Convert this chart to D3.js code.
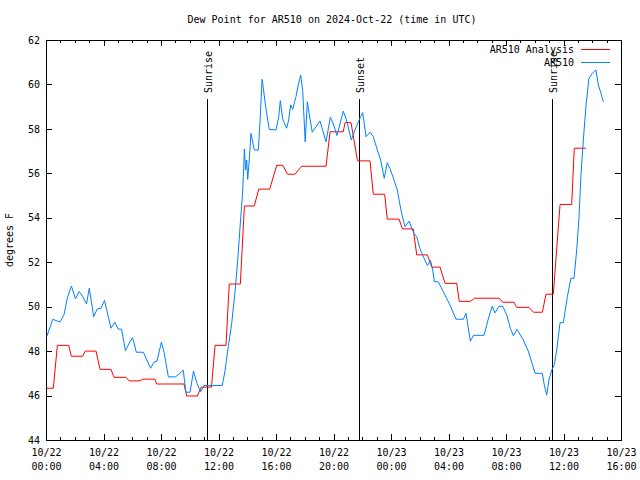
<!DOCTYPE html>
<html>
<head>
<meta charset="utf-8">
<script src="https://cdn.jsdelivr.net/npm/d3@7"></script>
<style>
  body { margin: 0; background: #fff; }
  svg { display: block; }
  text { font-family: "DejaVu Sans Mono", monospace; font-size: 10px; fill: #000; }
</style>
</head>
<body>
<svg id="chart" width="640" height="480"></svg>
<script>
// ---- Data (hours since 2024-10-22 00:00 UTC) ----
const titleText = "Dew Point for AR510 on 2024-Oct-22 (time in UTC)";
const yLabelText = "degrees F";
const seriesNames = ["AR510 Analysis", "AR510"];

const xTickHours = [0, 4, 8, 12, 16, 20, 24, 28, 32, 36, 40];
const xTickDates = ["10/22", "10/22", "10/22", "10/22", "10/22", "10/22", "10/23", "10/23", "10/23", "10/23", "10/23"];
const xTickTimes = ["00:00", "04:00", "08:00", "12:00", "16:00", "20:00", "00:00", "04:00", "08:00", "12:00", "16:00"];
const yTicks = [44, 46, 48, 50, 52, 54, 56, 58, 60, 62];

const eventNames = ["Sunrise", "Sunset", "Sunrise"];
const eventHours = [11.22, 21.80, 35.22];

const analysisHours = [0.05, 0.51, 0.79, 1.58, 1.76, 2.55, 2.73, 3.48, 3.76, 4.52, 4.73, 5.57, 5.79, 6.54, 6.73, 7.58, 7.70, 9.60, 9.79, 10.53, 10.80, 11.51, 11.76, 12.52, 12.75, 13.52, 13.80, 14.49, 14.80, 15.56, 16.05, 16.47, 16.80, 17.32, 17.79, 19.48, 19.76, 20.68, 20.80, 21.22, 21.67, 22.54, 22.77, 23.56, 23.74, 24.56, 24.79, 25.55, 25.79, 26.53, 26.83, 27.41, 27.76, 28.57, 28.75, 29.54, 29.80, 31.53, 31.77, 32.56, 32.74, 33.60, 33.91, 34.53, 34.78, 35.29, 35.76, 36.57, 36.75, 37.57];
const analysisValues = [46.33, 46.33, 48.26, 48.26, 47.77, 47.77, 48.00, 48.00, 47.18, 47.18, 46.82, 46.82, 46.66, 46.66, 46.74, 46.74, 46.52, 46.52, 45.98, 45.98, 46.38, 46.38, 48.26, 48.26, 51.02, 51.02, 54.53, 54.53, 55.29, 55.29, 56.36, 56.36, 55.96, 55.96, 56.32, 56.32, 57.87, 57.87, 58.28, 58.28, 56.56, 56.56, 55.06, 55.06, 53.94, 53.94, 53.50, 53.50, 52.33, 52.33, 51.78, 51.78, 51.05, 51.05, 50.24, 50.24, 50.38, 50.38, 50.20, 50.20, 49.97, 49.97, 49.75, 49.75, 50.56, 50.56, 54.60, 54.60, 57.13, 57.13];

const obsHours = [0.05, 0.47, 0.97, 1.25, 1.48, 1.77, 2.05, 2.30, 2.54, 2.82, 3.01, 3.32, 3.57, 3.83, 4.07, 4.52, 4.79, 5.02, 5.25, 5.53, 5.84, 6.02, 6.12, 6.28, 6.77, 7.28, 7.51, 7.72, 8.03, 8.22, 8.51, 9.01, 9.55, 9.73, 10.02, 10.26, 10.50, 10.76, 10.99, 12.26, 12.45, 12.68, 12.92, 13.15, 13.34, 13.50, 13.66, 13.73, 13.80, 13.89, 13.96, 14.03, 14.14, 14.26, 14.35, 14.49, 14.77, 14.89, 15.03, 15.12, 15.28, 15.53, 16.00, 16.19, 16.30, 16.47, 16.74, 16.88, 17.02, 17.16, 17.39, 17.55, 17.72, 17.86, 18.03, 18.18, 18.32, 18.52, 19.06, 19.48, 19.78, 19.99, 20.24, 20.68, 20.89, 21.24, 21.50, 21.73, 21.89, 22.03, 22.12, 22.26, 22.54, 22.77, 23.05, 23.28, 23.42, 23.53, 23.74, 23.93, 24.21, 24.44, 24.58, 24.74, 24.97, 25.27, 25.44, 25.60, 25.79, 26.02, 26.30, 26.53, 26.75, 26.90, 27.02, 27.29, 27.64, 28.10, 28.52, 29.03, 29.22, 29.31, 29.52, 29.74, 30.47, 30.77, 31.04, 31.23, 31.53, 31.79, 32.07, 32.30, 32.51, 32.77, 33.20, 33.55, 33.79, 34.02, 34.53, 34.66, 34.83, 34.99, 35.18, 35.36, 35.53, 35.76, 35.99, 36.26, 36.52, 36.73, 36.92, 37.08, 37.22, 37.38, 37.57, 37.77, 38.00, 38.26, 38.42, 38.61, 38.77];
const obsValues = [48.65, 49.43, 49.31, 49.63, 50.38, 50.93, 50.35, 50.68, 50.48, 50.12, 50.83, 49.55, 49.90, 49.93, 50.28, 49.03, 49.30, 48.99, 48.99, 48.02, 48.42, 48.60, 48.38, 47.95, 47.95, 47.23, 47.50, 47.55, 48.41, 47.93, 46.84, 46.84, 47.14, 46.15, 46.15, 47.10, 46.55, 46.17, 46.45, 46.45, 47.10, 48.20, 49.25, 50.67, 52.10, 53.60, 54.95, 55.85, 57.10, 56.15, 56.60, 55.73, 56.60, 57.80, 57.50, 57.05, 57.05, 58.32, 60.23, 59.83, 59.00, 57.98, 57.95, 58.55, 59.27, 58.43, 58.03, 58.40, 59.08, 58.88, 59.45, 59.98, 60.42, 59.68, 57.42, 59.22, 58.63, 57.85, 58.36, 57.42, 58.52, 58.22, 57.70, 58.80, 58.43, 57.50, 57.95, 58.32, 58.55, 58.73, 58.32, 57.65, 57.85, 57.65, 57.05, 56.60, 56.15, 55.78, 56.48, 56.22, 55.70, 55.25, 54.73, 54.20, 53.60, 53.85, 53.53, 53.30, 53.15, 52.60, 52.18, 51.85, 52.08, 51.65, 51.12, 51.12, 50.67, 50.08, 49.44, 49.43, 49.70, 49.32, 48.45, 48.71, 48.71, 49.45, 50.02, 49.72, 50.03, 50.00, 49.60, 49.03, 48.70, 48.98, 48.50, 48.00, 47.50, 47.00, 47.00, 46.48, 46.02, 46.70, 47.15, 47.38, 48.05, 49.28, 49.28, 50.42, 51.28, 51.28, 52.55, 54.05, 56.00, 57.50, 59.08, 60.28, 60.50, 60.65, 59.98, 59.60, 59.22];

const colors = ["#ff0000", "#0080ff"];

// ---- Layout ----
const L = 46, R = 621, T = 40, B = 440;
const svg = d3.select("#chart");

const x = d3.scaleLinear().domain([0, 40]).range([L, R]);
const y = d3.scaleLinear().domain([44, 62]).range([B, T]);

// Title
svg.append("text").attr("x", 332).attr("y", 23).attr("text-anchor", "middle").text(titleText);

// Y label
svg.append("text").attr("transform", "translate(13,240) rotate(-90)")
  .attr("text-anchor", "middle").text(yLabelText);

// Minor x ticks (hourly), bottom and top, inward
const hours = d3.range(0, 41);
svg.append("g").attr("transform", `translate(0,${B})`)
  .call(d3.axisBottom(x).tickValues(hours).tickSize(-3).tickFormat(""))
  .call(g => g.select(".domain").remove());
svg.append("g").attr("transform", `translate(0,${T})`)
  .call(d3.axisBottom(x).tickValues(hours).tickSize(3).tickFormat(""))
  .call(g => g.select(".domain").remove());

// Major x ticks with labels
const xb = svg.append("g").attr("transform", `translate(0,${B})`)
  .call(d3.axisBottom(x).tickValues(xTickHours).tickSize(-6).tickPadding(9)
    .tickFormat((d, i) => ""))
  .call(g => g.select(".domain").remove());
xb.selectAll(".tick text").each(function(d, i) {
  const t = d3.select(this).attr("dy", null).attr("y", 0);
  t.append("tspan").attr("x", 0).attr("y", 16).text(xTickDates[i]);
  t.append("tspan").attr("x", 0).attr("y", 30).text(xTickTimes[i]);
});
svg.append("g").attr("transform", `translate(0,${T})`)
  .call(d3.axisBottom(x).tickValues(xTickHours).tickSize(6).tickFormat(""))
  .call(g => g.select(".domain").remove());

// Y ticks left (labels) and right
svg.append("g").attr("transform", `translate(${L},0)`)
  .call(d3.axisLeft(y).tickValues(yTicks).tickSize(-6).tickPadding(6).tickFormat(d3.format("d")))
  .call(g => g.select(".domain").remove());
svg.append("g").attr("transform", `translate(${R},0)`)
  .call(d3.axisRight(y).tickValues(yTicks).tickSize(-6).tickFormat(""))
  .call(g => g.select(".domain").remove());

svg.selectAll(".tick line").attr("stroke", "#000").attr("shape-rendering", "crispEdges");
svg.selectAll(".tick text").attr("font-family", "DejaVu Sans Mono").attr("font-size", 10).attr("fill", "#000");

// Frame
svg.append("rect").attr("x", L).attr("y", T).attr("width", R - L).attr("height", B - T)
  .attr("fill", "none").attr("stroke", "#000").attr("shape-rendering", "crispEdges");

// Sunrise / sunset markers
eventHours.forEach((h, i) => {
  const xp = Math.round(x(h)) + 0.5;
  svg.append("line").attr("x1", xp).attr("x2", xp).attr("y1", 99).attr("y2", B)
    .attr("stroke", "#000").attr("stroke-width", 1);
  svg.append("text").attr("transform", `translate(${xp + 1},93) rotate(-90)`)
    .attr("text-anchor", "start").attr("dominant-baseline", "central").text(eventNames[i]);
});

// Series
const line = d3.line().x(d => x(d[0])).y(d => y(d[1]));
const anaData = analysisHours.map((h, i) => [h, analysisValues[i]]);
const obsData = obsHours.map((h, i) => [h, obsValues[i]]);

svg.append("path").datum(anaData).attr("d", line)
  .attr("fill", "none").attr("stroke", colors[0]).attr("stroke-width", 1);
svg.append("path").datum(obsData).attr("d", line)
  .attr("fill", "none").attr("stroke", colors[1]).attr("stroke-width", 1);

// Legend
const legY = [49, 62];
seriesNames.forEach((name, i) => {
  svg.append("text").attr("x", 574).attr("y", legY[i]).attr("text-anchor", "end")
    .attr("dominant-baseline", "central").text(name);
  svg.append("line").attr("x1", 581).attr("x2", 610).attr("y1", legY[i] + 0.5).attr("y2", legY[i] + 0.5)
    .attr("stroke", colors[i]).attr("stroke-width", 1);
});
</script>
</body>
</html>
